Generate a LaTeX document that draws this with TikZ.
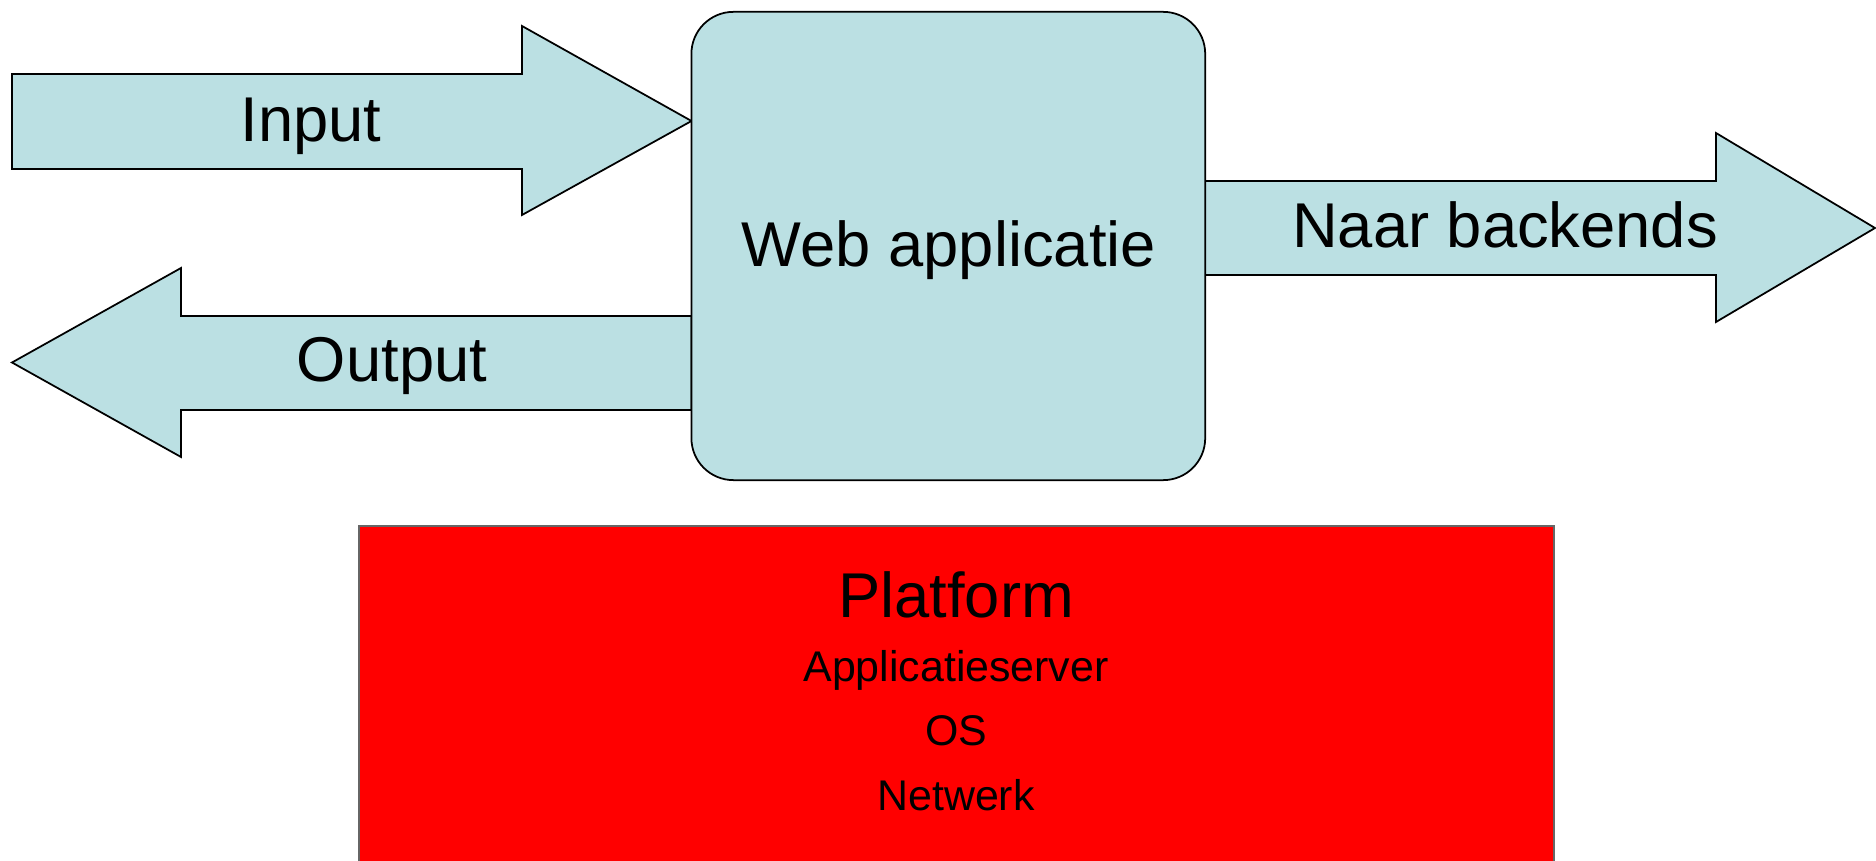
\documentclass[tikz,border=0pt]{standalone}
\usepackage{fontspec}
\setmainfont{Liberation Sans}
\usepackage{xcolor}
\definecolor{paleblue}{RGB}{187,224,227}
\definecolor{platformred}{RGB}{255,0,0}

\begin{document}
\begin{tikzpicture}[x=0.01cm,y=-0.01cm,
  blok/.style={draw=black,line width=0.5pt,fill=paleblue,line join=miter},
  bigtext/.style={font=\fontsize{18}{22}\selectfont,anchor=base},
  smalltext/.style={font=\fontsize{12.2}{15}\selectfont,anchor=base}]
\useasboundingbox (0,0) rectangle (1876,861);

% Draw the platform block
\draw[draw=black!60,line width=0.5pt,fill=platformred] (358.7,526) rectangle (1553.7,900);

% Draw the arrows
\draw[blok] (12,74) -- (522,74) -- (522,26) -- (691.5,121) -- (522,215) -- (522,169) -- (12,169) -- cycle;
\draw[blok] (12,362.5) -- (181,268) -- (181,316) -- (691.5,316) -- (691.5,410) -- (181,410) -- (181,457) -- cycle;
\draw[blok] (1205,181) -- (1716,181) -- (1716,133) -- (1875,228) -- (1716,322) -- (1716,275) -- (1205,275) -- cycle;

% Draw the web application
\node[blok,rounded corners=0.42cm,minimum width=5.135cm,minimum height=4.68cm] (webapp) at (948.3,246) {};

% Labels
\node[bigtext] (input) at (311,141.7) {Input};
\node[bigtext] (output) at (392,382) {Output};
\node[bigtext] (webtext) at (949,266.7) {Web applicatie};
\node[bigtext] (backends) at (1505,247.7) {Naar backends};
\node[bigtext] (platform) at (956,617.3) {Platform};
\node[smalltext] (appserver) at (956,681.7) {Applicatieserver};
\node[smalltext] (os) at (956,745.7) {OS};
\node[smalltext] (netwerk) at (956,810) {Netwerk};
\end{tikzpicture}
\end{document}
